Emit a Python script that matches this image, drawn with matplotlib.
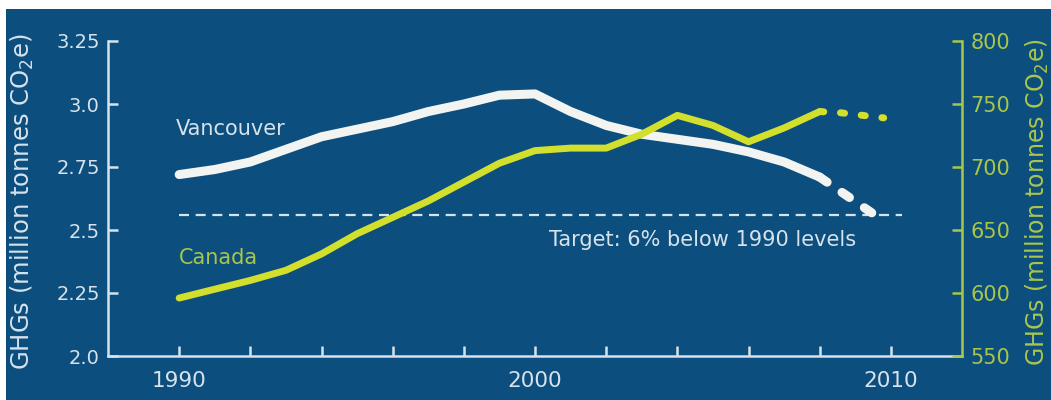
import matplotlib.pyplot as plt
from matplotlib.patches import Rectangle

plt.rcParams['font.family'] = ['DejaVu Sans']

# Datos
years = [1990, 1991, 1992, 1993, 1994, 1995, 1996, 1997, 1998, 1999,
         2000, 2001, 2002, 2003, 2004, 2005, 2006, 2007, 2008]
vancouver = [2.72, 2.74, 2.77, 2.82, 2.87, 2.90, 2.93, 2.97, 3.00, 3.035,
             3.04, 2.97, 2.915, 2.88, 2.86, 2.84, 2.81, 2.77, 2.71]
canada = [596, 603, 610, 618, 631, 647, 660, 673, 688, 703,
          713, 715, 715, 726, 741, 733, 720, 731, 744]

# Proyecciones
van_proj_years = [2008, 2009.6]
van_proj = [2.71, 2.555]
can_proj_years = [2008, 2008.6, 2009.2, 2009.8]
can_proj = [744, 743, 741, 739]

target = 2.56
target_years = [1990, 2010.3]

left_ticks = [2.0, 2.25, 2.5, 2.75, 3.0, 3.25]
left_labels = ['2.0', '2.25', '2.5', '2.75', '3.0', '3.25']
right_ticks = [550, 600, 650, 700, 750, 800]
x_ticks = [1990, 1992, 1994, 1996, 1998, 2000, 2002, 2004, 2006, 2008, 2010]
x_labels = ['1990', '', '', '', '', '2000', '', '', '', '', '2010']

bg = '#0c4e7e'
white = '#f2f4f2'
light = '#d6e2ec'
yellow = '#d2df2c'
green = '#a9c64c'

fig = plt.figure(figsize=(10.51, 4.0), dpi=100)
fig.patch.set_facecolor('white')
fig.add_artist(Rectangle((6 / 1051, 0), 1, 1 - 9 / 400, transform=fig.transFigure,
                         facecolor=bg, edgecolor='none', zorder=-5))

ax = fig.add_axes([108 / 1051, 1 - 356 / 400, (962 - 108) / 1051, (356 - 41) / 400])
ax.set_facecolor('none')
ax.set_xlim(1988, 2012)
ax.set_ylim(2.0, 3.25)

ax.plot(years, vancouver, color=white, lw=6.5, solid_capstyle='round',
        solid_joinstyle='round', zorder=3)
ax.plot(van_proj_years, van_proj, color=white, lw=6.5, dash_capstyle='round',
        dashes=(1, 2), zorder=3)
ax.plot(target_years, [target, target], color=light, lw=1.6, dashes=(4.5, 3), zorder=2)

ax.text(1989.9, 2.90, 'Vancouver', color=light, fontsize=15, va='center')
ax.text(1990.0, 2.39, 'Canada', color=green, fontsize=15, va='center')
ax.text(2000.4, 2.46, 'Target: 6% below 1990 levels', color=light, fontsize=15, va='center')

for s in ['top', 'right']:
    ax.spines[s].set_visible(False)
for s in ['left', 'bottom']:
    ax.spines[s].set_color(light)
    ax.spines[s].set_linewidth(1.8)

ax.set_yticks(left_ticks)
ax.set_yticklabels(left_labels)
ax.set_xticks(x_ticks)
ax.set_xticklabels(x_labels)
ax.tick_params(axis='y', direction='in', length=7, width=1.8, color=light,
               labelcolor=light, labelsize=14, pad=6)
ax.tick_params(axis='x', direction='in', length=7, width=1.8, color=light,
               labelcolor=light, labelsize=15.5, pad=11)
ax.set_ylabel('GHGs (million tonnes CO$_2$e)', color=light, fontsize=17.5)
ax.yaxis.set_label_coords(-72 / 854, 0.49)

ax2 = ax.twinx()
ax2.set_ylim(550, 800)
ax2.plot(years, canada, color=yellow, lw=5, solid_capstyle='round',
         solid_joinstyle='round', zorder=3)
ax2.plot(can_proj_years, can_proj, color=yellow, lw=5, dash_capstyle='round',
         dashes=(0.6, 2.4), zorder=3)
for s in ['top', 'left', 'bottom']:
    ax2.spines[s].set_visible(False)
ax2.spines['right'].set_color(green)
ax2.spines['right'].set_linewidth(1.8)
ax2.set_yticks(right_ticks)
ax2.tick_params(axis='y', direction='in', length=7, width=1.8, color=green,
                labelcolor=green, labelsize=15, pad=6)
ax2.set_ylabel('GHGs (million tonnes CO$_2$e)', color=green, fontsize=17)
ax2.yaxis.set_label_coords(1 + 62 / 854, 0.49)

fig.savefig('out.png', dpi=100)
